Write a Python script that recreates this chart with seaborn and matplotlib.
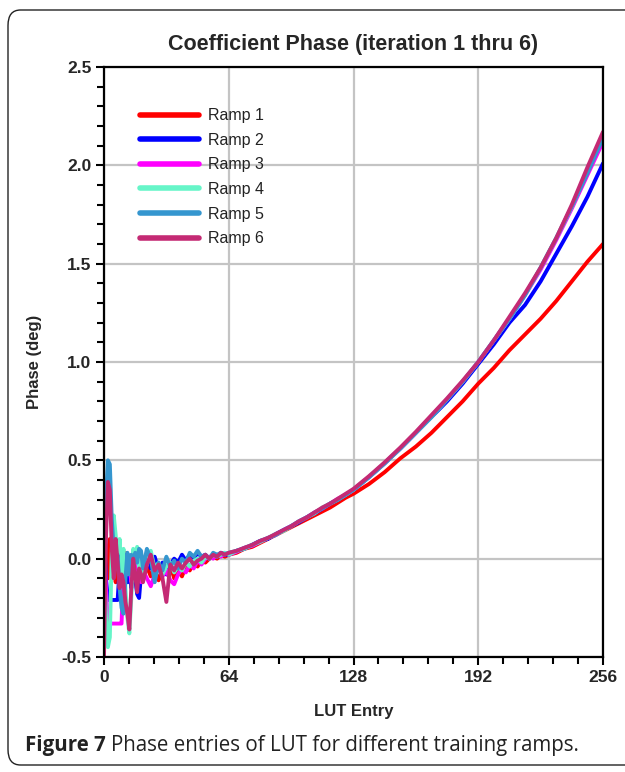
import numpy as np
import pandas as pd
import matplotlib
matplotlib.use("Agg")
import matplotlib.pyplot as plt
from matplotlib.patches import FancyBboxPatch
from matplotlib.ticker import MultipleLocator, FixedLocator
import seaborn as sns

# ---------------- data ----------------
lut_entry = (list(range(0, 21)) + list(range(22, 65, 2)) +
             list(range(68, 129, 4)) + list(range(136, 257, 8)))

ramp1 = [0.20, 0.05, -0.10, 0.10, -0.05, 0.08, -0.12, 0.02, -0.15, 0.00, -0.08, 0.03, -0.10, -0.02, -0.05, -0.12, -0.03, -0.08, 0.00, -0.06, -0.10,
         -0.04, -0.09, -0.05, -0.11, -0.06, -0.08, -0.03, -0.10, -0.06, -0.09, -0.04, -0.06, -0.02, -0.04, -0.01, -0.02, 0.00, 0.01, 0.00, 0.02, 0.01, 0.02,
         0.03, 0.05, 0.06, 0.08, 0.10, 0.12, 0.14, 0.16, 0.18, 0.20, 0.22, 0.24, 0.26, 0.285, 0.31, 0.33,
         0.38, 0.44, 0.51, 0.57, 0.64, 0.72, 0.80, 0.89, 0.97, 1.06, 1.14, 1.22, 1.31, 1.41, 1.51, 1.60]
ramp2 = [0.15, -0.10, -0.21, -0.21, -0.21, -0.21, -0.21, -0.21, -0.05, 0.02, -0.10, 0.00, -0.12, -0.06, -0.15, -0.04, -0.10, -0.18, -0.20, -0.08, -0.02,
         0.02, -0.05, 0.01, -0.06, -0.02, -0.08, -0.03, 0.00, -0.02, 0.02, -0.01, 0.02, 0.00, 0.03, 0.01, 0.02, 0.00, 0.02, 0.01, 0.03, 0.02, 0.02,
         0.04, 0.05, 0.07, 0.09, 0.10, 0.125, 0.145, 0.165, 0.185, 0.21, 0.23, 0.255, 0.28, 0.30, 0.325, 0.35,
         0.415, 0.485, 0.56, 0.64, 0.72, 0.80, 0.89, 0.99, 1.09, 1.20, 1.29, 1.41, 1.55, 1.69, 1.84, 2.01]
ramp3 = [0.10, -0.15, -0.33, -0.33, -0.33, -0.33, -0.33, -0.33, -0.33, -0.33, -0.05, 0.02, -0.08, -0.02, -0.12, -0.05, -0.10, -0.02, -0.08, -0.12, -0.06,
         -0.10, -0.14, -0.08, -0.04, -0.09, -0.06, -0.11, -0.13, -0.08, -0.05, -0.07, -0.03, -0.05, -0.01, -0.03, 0.00, 0.01, 0.00, 0.02, 0.01, 0.03, 0.02,
         0.035, 0.055, 0.065, 0.085, 0.105, 0.12, 0.145, 0.165, 0.19, 0.21, 0.235, 0.255, 0.28, 0.305, 0.325, 0.35,
         0.415, 0.485, 0.56, 0.64, 0.725, 0.81, 0.90, 1.00, 1.11, 1.22, 1.34, 1.47, 1.62, 1.78, 1.95, 2.12]
ramp4 = [0.00, -0.30, -0.45, -0.40, 0.05, 0.22, 0.12, -0.05, 0.10, -0.10, 0.05, -0.15, -0.30, -0.38, -0.20, 0.05, -0.02, 0.06, -0.05, 0.03, -0.08,
         -0.03, 0.04, -0.05, -0.02, -0.08, -0.04, -0.02, -0.07, -0.04, -0.06, -0.02, -0.04, -0.01, 0.00, -0.02, 0.01, 0.00, 0.02, 0.01, 0.02, 0.03, 0.02,
         0.04, 0.05, 0.07, 0.085, 0.105, 0.125, 0.14, 0.165, 0.19, 0.21, 0.23, 0.26, 0.28, 0.30, 0.325, 0.35,
         0.415, 0.485, 0.56, 0.64, 0.72, 0.81, 0.90, 1.00, 1.11, 1.22, 1.34, 1.48, 1.63, 1.79, 1.97, 2.15]
ramp5 = [0.00, 0.30, 0.50, 0.48, 0.20, 0.05, -0.05, 0.02, -0.15, -0.25, -0.28, -0.10, 0.03, -0.08, 0.02, -0.05, 0.03, -0.02, 0.05, 0.04, -0.05,
         0.05, 0.00, -0.12, -0.02, -0.06, 0.01, -0.04, -0.01, -0.05, 0.00, -0.02, 0.03, 0.01, 0.04, 0.01, 0.02, 0.00, 0.03, 0.02, 0.03, 0.02, 0.03,
         0.04, 0.055, 0.07, 0.09, 0.105, 0.12, 0.145, 0.165, 0.19, 0.21, 0.235, 0.255, 0.28, 0.30, 0.325, 0.35,
         0.415, 0.485, 0.56, 0.64, 0.72, 0.81, 0.90, 1.00, 1.11, 1.22, 1.34, 1.48, 1.63, 1.79, 1.96, 2.14]
ramp6 = [-0.50, 0.10, 0.39, 0.35, 0.05, -0.10, 0.10, -0.02, -0.15, -0.08, -0.12, -0.22, -0.28, -0.36, -0.15, 0.00, -0.08, -0.17, -0.05, -0.08, -0.12,
         -0.03, 0.02, -0.06, -0.03, -0.10, -0.22, -0.03, -0.06, -0.02, -0.05, -0.02, 0.00, -0.03, -0.01, 0.00, 0.02, 0.00, 0.02, 0.01, 0.03, 0.02, 0.03,
         0.04, 0.055, 0.07, 0.09, 0.105, 0.125, 0.145, 0.165, 0.19, 0.21, 0.235, 0.26, 0.28, 0.305, 0.33, 0.355,
         0.42, 0.49, 0.565, 0.645, 0.73, 0.815, 0.905, 1.00, 1.11, 1.23, 1.35, 1.48, 1.63, 1.80, 1.99, 2.17]

ramp_names = ["Ramp 1", "Ramp 2", "Ramp 3", "Ramp 4", "Ramp 5", "Ramp 6"]
ramp_values = [ramp1, ramp2, ramp3, ramp4, ramp5, ramp6]
ramp_colors = ["#FF0000", "#0000FF", "#FF00FF", "#66F5C8", "#3596CF", "#C42A74"]

x_ticks = [0, 64, 128, 192, 256]
y_ticks = [-0.5, 0.0, 0.5, 1.0, 1.5, 2.0, 2.5]
y_tick_labels = ["-0.5", "0.0", "0.5", "1.0", "1.5", "2.0", "2.5"]

frames = []
for name, vals in zip(ramp_names, ramp_values):
    assert len(vals) == len(lut_entry), (name, len(vals))
    frames.append(pd.DataFrame({"LUT": lut_entry, "Phase": vals, "Ramp": name}))
df = pd.concat(frames, ignore_index=True)

# ---------------- figure ----------------
sns.set_style("white")
plt.rcParams["font.family"] = ["Liberation Sans", "DejaVu Sans"]

fig = plt.figure(figsize=(6.25, 7.72), dpi=100)
ax = fig.add_axes([104 / 625, 115 / 772, 499 / 625, 590 / 772])

# rounded frame around figure
frame = FancyBboxPatch((8 / 625, 7 / 772), 1.2, 755 / 772,
                       boxstyle="round,pad=0,rounding_size=0.02",
                       transform=fig.transFigure, fill=False,
                       edgecolor="#222222", linewidth=1.0, clip_on=False)
fig.patches.append(frame)

sns.lineplot(data=df, x="LUT", y="Phase", hue="Ramp", hue_order=ramp_names,
             palette=dict(zip(ramp_names, ramp_colors)), estimator=None,
             sort=False, linewidth=2.8, ax=ax, legend=True)

ax.set_xlim(0, 256)
ax.set_ylim(-0.5, 2.5)
ax.xaxis.set_major_locator(FixedLocator(x_ticks))
ax.xaxis.set_minor_locator(MultipleLocator(12.8))
ax.yaxis.set_major_locator(FixedLocator(y_ticks))
ax.yaxis.set_minor_locator(MultipleLocator(0.1))
ax.set_yticklabels(y_tick_labels)
ax.grid(True, which="major", color="#C4C4C4", linewidth=1.6)
ax.set_axisbelow(True)
for s in ax.spines.values():
    s.set_color("black")
    s.set_linewidth(1.6)
ax.tick_params(which="both", direction="out", color="black", width=1.5,
               bottom=True, left=True)
ax.tick_params(which="major", length=6, labelsize=12.5, pad=3)
ax.tick_params(which="minor", length=5)
for lab in ax.get_xticklabels() + ax.get_yticklabels():
    lab.set_fontweight("bold")

ax.set_xlabel("LUT Entry", fontsize=12, fontweight="bold", labelpad=14)
ax.set_ylabel("Phase (deg)", fontsize=12, fontweight="bold", labelpad=14)
ax.set_title("Coefficient Phase (iteration 1 thru 6)", fontsize=15.5,
             fontweight="bold", pad=12)

leg = ax.legend(loc="upper left", bbox_to_anchor=(0.072, 0.93), frameon=False,
                fontsize=11.5, handlelength=3.7, handletextpad=0.55,
                labelspacing=0.6, borderpad=0, borderaxespad=0)
for line in leg.get_lines():
    line.set_linewidth(4)
    line.set_solid_capstyle("round")
for t in leg.get_texts():
    t.set_color("#222222")

# caption
cap_font = ["Open Sans", "DejaVu Sans"]
t1 = fig.text(25 / 625, 1 - 745 / 772, "Figure 7", fontsize=14.8,
              fontweight="bold", family=cap_font, va="center", ha="left",
              color="#222222")
fig.canvas.draw()
bb = t1.get_window_extent(renderer=fig.canvas.get_renderer())
fig.text(bb.x1 / fig.bbox.width + 5 / 625, 1 - 745 / 772,
         "Phase entries of LUT for different training ramps.", fontsize=14.8,
         family=cap_font, va="center", ha="left", color="#222222")

fig.savefig("out.png", dpi=100)
